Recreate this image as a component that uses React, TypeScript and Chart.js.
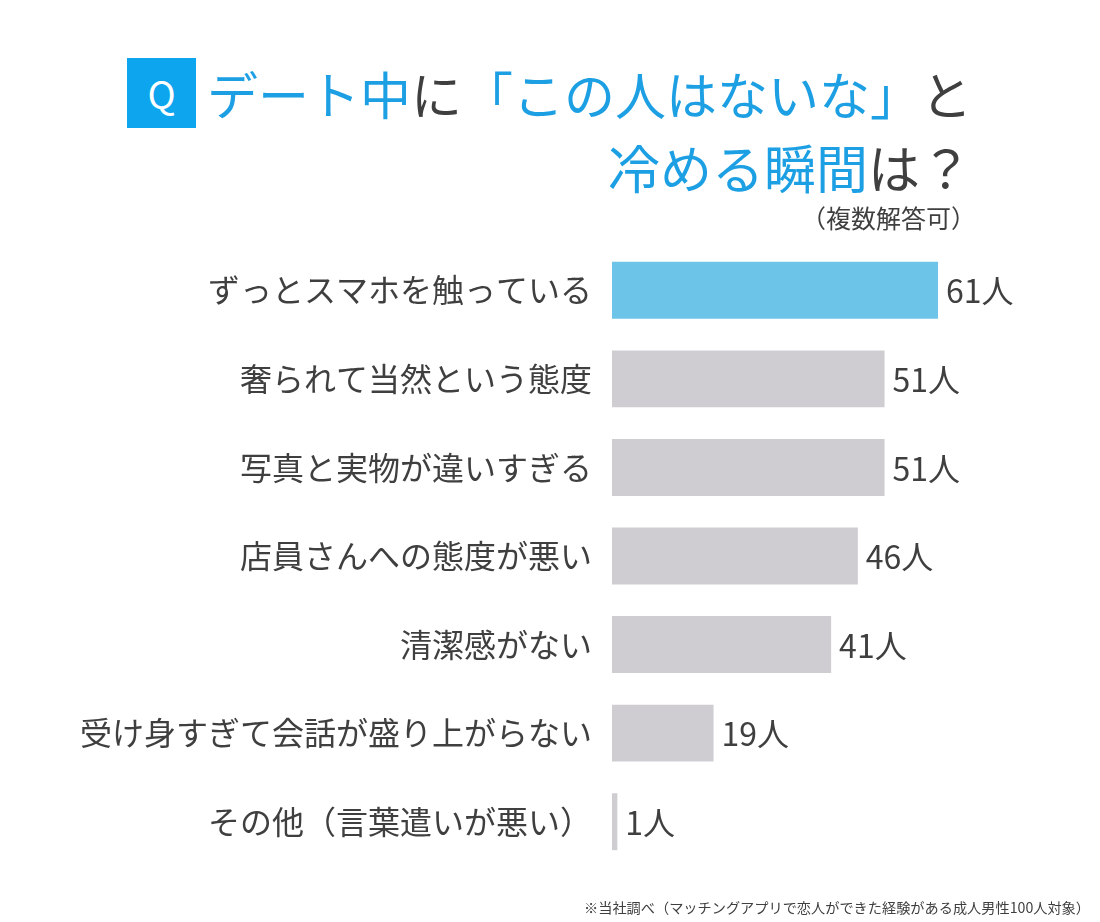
import React, { useEffect, useRef } from "react";
import { Chart, registerables } from "chart.js";

Chart.register(...registerables);

// Survey answers (multiple answers allowed), counts out of 100 respondents
const categories = [
  "ずっとスマホを触っている",
  "奢られて当然という態度",
  "写真と実物が違いすぎる",
  "店員さんへの態度が悪い",
  "清潔感がない",
  "受け身すぎて会話が盛り上がらない",
  "その他（言葉遣いが悪い）",
];
const counts = [61, 51, 51, 46, 41, 19, 1];
const unit = "人";
const barColors = ["#6cc5e8", "#cfcdd1", "#cfcdd1", "#cfcdd1", "#cfcdd1", "#cfcdd1", "#cfcdd1"];

const FONT = "'Noto Sans CJK JP', 'Noto Sans', sans-serif";
const TEXT = "#3f3f3f";
const BLUE = "#1d9fe3";

// Draws "NN人" just past the end of each bar
const valueLabels = {
  id: "valueLabels",
  afterDatasetsDraw(chart: any) {
    const { ctx } = chart;
    const meta = chart.getDatasetMeta(0);
    ctx.save();
    ctx.font = `32px ${FONT}`;
    ctx.fillStyle = TEXT;
    ctx.textBaseline = "middle";
    ctx.textAlign = "left";
    meta.data.forEach((bar: any, i: number) => {
      ctx.fillText(`${counts[i]}${unit}`, bar.x + 8, bar.y + 1);
    });
    ctx.restore();
  },
};

function BarChart() {
  const ref = useRef<HTMLCanvasElement | null>(null);
  useEffect(() => {
    if (!ref.current) return;
    const chart = new Chart(ref.current, {
      type: "bar",
      data: {
        labels: categories,
        datasets: [
          {
            data: counts,
            backgroundColor: barColors,
            borderWidth: 0,
            categoryPercentage: 1,
            barPercentage: 0.643,
          },
        ],
      },
      options: {
        indexAxis: "y",
        animation: false,
        responsive: false,
        devicePixelRatio: 1,
        layout: { padding: { top: 246, bottom: 56, left: 0, right: 7 } },
        plugins: {
          legend: { display: false },
          tooltip: { enabled: false },
        },
        scales: {
          x: { min: 0, max: 90, display: false },
          y: {
            grid: { display: false, drawTicks: false },
            border: { display: false },
            ticks: {
              color: TEXT,
              padding: 20,
              font: { size: 32, family: FONT },
            },
            afterFit(scale: any) {
              scale.width = 612;
            },
          },
        },
      },
      plugins: [valueLabels],
    } as any);
    return () => chart.destroy();
  }, []);
  return (
    <canvas
      ref={ref}
      width={1100}
      height={922}
      style={{ position: "absolute", left: 0, top: 0, width: 1100, height: 922 }}
    />
  );
}

export default function App() {
  return (
    <div
      style={{
        position: "absolute",
        left: 0,
        top: 0,
        width: 1100,
        height: 922,
        background: "#ffffff",
        overflow: "hidden",
        fontFamily: FONT,
      }}
    >
      <BarChart />
      <div
        style={{
          position: "absolute",
          left: 127,
          top: 58,
          width: 69,
          height: 70,
          background: "#0ea5ef",
          color: "#ffffff",
          fontSize: 38,
          lineHeight: "70px",
          textAlign: "center",
        }}
      >
        Q
      </div>
      <div
        style={{
          position: "absolute",
          right: 128,
          top: 58,
          fontSize: 51,
          lineHeight: "70px",
          whiteSpace: "nowrap",
          fontWeight: 400,
          color: BLUE,
        }}
      >
        デート中<span style={{ color: TEXT }}>に</span>「この人はないな」<span style={{ color: TEXT }}>と</span>
      </div>
      <div
        style={{
          position: "absolute",
          right: 128,
          top: 134,
          fontSize: 52,
          lineHeight: "66px",
          whiteSpace: "nowrap",
          fontWeight: 400,
          color: BLUE,
        }}
      >
        冷める瞬間<span style={{ color: TEXT }}>は？</span>
      </div>
      <div
        style={{
          position: "absolute",
          right: 124,
          top: 201,
          fontSize: 25,
          lineHeight: "32px",
          whiteSpace: "nowrap",
          color: TEXT,
        }}
      >
        （複数解答可）
      </div>
      <div
        style={{
          position: "absolute",
          right: 10,
          top: 896,
          fontSize: 14.2,
          lineHeight: "22px",
          whiteSpace: "nowrap",
          color: TEXT,
        }}
      >
        ※当社調べ（マッチングアプリで恋人ができた経験がある成人男性100人対象）
      </div>
    </div>
  );
}
